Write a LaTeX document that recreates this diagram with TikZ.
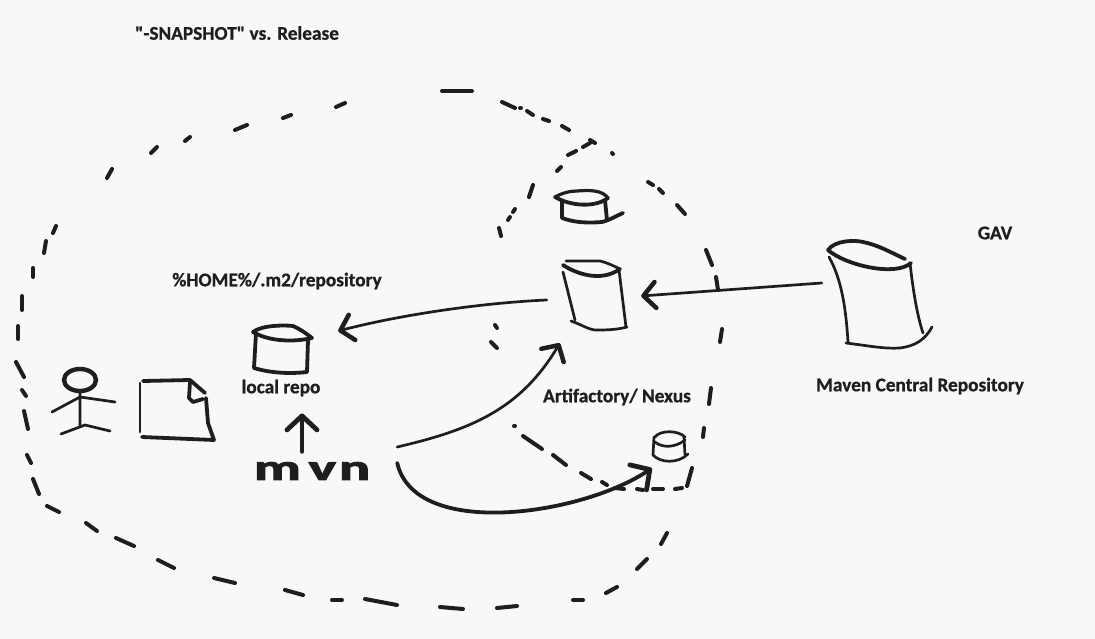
\documentclass[tikz,border=0pt]{standalone}
\usepackage{fontspec}
\newfontfamily\sketchfont[BoldFeatures={FakeBold=0.8}]{Carlito}
\newfontfamily\mvnfont[BoldFeatures={FakeBold=2.5}]{Carlito}
\usepackage{tikz}
\usetikzlibrary{arrows.meta, positioning}
\definecolor{paper}{HTML}{F8F8F8}
\definecolor{ink}{HTML}{1E1E1E}

\begin{document}
\begin{tikzpicture}[
    x=1pt, y=-1pt,
    node distance=26pt,
    sketch/.style={draw=ink, line width=2.7pt, line cap=round, line join=round},
    heavy/.style={sketch, line width=3.8pt},
    dashmark/.style={sketch, line width=4pt},
    caption/.style={text=ink, inner sep=0pt, font=\sketchfont\bfseries\fontsize{19.3}{21}\selectfont},
    repo/.style={inner sep=0pt},
    arrow/.style={sketch, -{Straight Barb[round, length=12pt, width=26pt, line width=4.5pt]}},
    bigarrow/.style={heavy, -{Straight Barb[round, length=14pt, width=30pt, line width=4.8pt]}} ]

    \fill[paper] (0,0) rectangle (1095,639);
    \useasboundingbox (0,0) rectangle (1095,639);

    % Outer and inner dashed rings
    \foreach \xa/\ya/\xb/\yb in {112/169/107/178, 56/226/53/233, 46/241/44/253, 33/268/33/277,
        22/296/22/310, 18/326/18/339, 16/362/24/377, 22/390/26/396, 24/411/28/429, 27/455/31/463,
        33/479/39/494, 47/506/59/512, 86/523/97/531, 116/538/134/546, 158/560/174/568,
        214/578/235/583, 285/590/303/595, 332/600/342/600, 365/599/397/605, 440/607/463/609,
        497/608/517/606, 573/600/583/600, 606/593/617/587, 637/569/647/559, 661/544/667/533,
        151/153/157/147, 185/141/190/137, 235/130/247/125, 283/118/291/115, 336/107/345/103,
        442/91/472/91, 502/102/515/108, 520/108/521/108, 527/111/533/115, 543/119/549/121,
        562/126/569/130, 612/153/613/154, 648/182/653/185, 659/189/663/193, 677/205/685/214,
        706/250/712/265, 716/277/718/290, 722/329/720/342, 711/388/709/404, 704/428/703/437,
        692/468/687/486, 682/488/675/489, 653/489/663/489, 637/489/643/490, 615/488/624/489,
        602/482/607/485, 581/473/591/479, 553/455/566/465, 523/436/542/449, 514/426/515/426,
        491/342/497/348, 495/325/497/328, 499/228/501/236, 508/220/510/217, 513/212/515/209,
        529/197/533/185, 557/171/561/167, 568/155/576/151, 583/147/590/143, 590/140/595/143}
      \draw[dashmark] (\xa,\ya) -- (\xb,\yb);

    % Stick figure and file
    \draw[heavy, line width=4.4pt] (80,380) ellipse (16 and 11);
    \draw[sketch] (80,392) -- (80,425) (52,412) -- (80,397) -- (115,402);
    \draw[sketch] (61,434) -- (85,425) -- (110,431);
    \draw[sketch] (140,383) -- (140,432);
    \draw[heavy] (143,381) -- (190,380) -- (205,393);
    \draw[heavy] (190,382) -- (189,398) -- (193,402) -- (203,399);
    \draw[heavy] (206,398) -- (208,423) -- (214,440) -- (142,437);

    % Local repository
    \node[repo, minimum width=110pt, minimum height=10pt] (local_cyl) at (283,350) {};
    \draw[heavy] (253,332) .. controls (262,325) and (285,325) .. (293,326)
        .. controls (300,329) and (307,334) .. (312,338);
    \draw[heavy] (253,332) .. controls (270,342) and (295,342) .. (312,338);
    \draw[heavy] (256,333) -- (254,368) .. controls (270,373) and (290,374) .. (307,372) -- (308,340);
    \node[caption] (local_label) at (281,388) {local repo};
    \node[caption] (home_label) at (277,281) {\%HOME\%/.m2/repository};

    % mvn
    \node[text=ink, minimum width=170pt, minimum height=38pt, inner sep=0pt,
        font=\mvnfont\bfseries\fontsize{36}{36}\selectfont] (mvn) at (312,471)
        {\raisebox{-1pt}{\scalebox{1.6}[1.0]{m\kern5pt v\kern2pt n}}};

    % Proxy repository
    \node[repo, minimum width=94pt, minimum height=94pt] (proxy_cyl) at (594,296) {};
    \draw[sketch] (566,261) -- (600,261) .. controls (608,263) and (614,266) .. (620,269);
    \draw[heavy] (563,265) .. controls (575,273) and (600,283) .. (620,269);
    \draw[sketch] (563,272) -- (575,320);
    \draw[sketch] (619,270) -- (626,327);
    \draw[sketch] (571,321) .. controls (585,326) and (590,331) .. (600,330)
        .. controls (610,330) and (620,329) .. (627,327);
    \node[caption] (proxy_label) at (617,397) {Artifactory/ Nexus};

    % Snapshot and release repositories
    \draw[sketch, line width=3.2pt] (555,197) .. controls (562,193) and (570,191) .. (577,191)
        .. controls (590,190) and (602,190) .. (608,198);
    \draw[heavy] (555,197) .. controls (570,206) and (595,208) .. (608,198);
    \draw[heavy] (562,202) -- (562,218) .. controls (575,223) and (590,223) .. (602,222)
        .. controls (610,220) and (616,216) .. (623,213);
    \draw[heavy] (605,200) -- (607,220);
    \node[repo, minimum width=36pt, minimum height=36pt] (release_cyl) at (670,450) {};
    \draw[sketch] (655,437) .. controls (660,430) and (678,430) .. (685,437);
    \draw[sketch] (655,442) .. controls (662,448) and (675,448) .. (685,440);
    \draw[sketch] (654,437) -- (653,455) .. controls (660,463) and (678,464) .. (688,454);
    \draw[sketch] (684,437) -- (685,455);

    % Maven Central
    \node[repo, minimum width=106pt, minimum height=110pt] (central_cyl) at (875,283) {};
    \draw[heavy] (828,250) .. controls (835,240) and (855,240) .. (863,242)
        .. controls (878,245) and (890,252) .. (905,259);
    \draw[heavy] (828,250) .. controls (845,265) and (895,277) .. (911,263);
    \draw[sketch] (829,257) .. controls (842,280) and (846,310) .. (848,342);
    \draw[sketch] (910,263) .. controls (913,290) and (917,315) .. (923,333);
    \draw[sketch] (846,343) .. controls (870,346) and (885,349) .. (900,348)
        .. controls (915,346) and (925,340) .. (932,327);
    \node[caption] (central_label) at (920,386) {Maven Central Repository};
    \node[caption] (gav_label) at (995,233) {GAV};
    \node[caption] (title_label) at (237,33) {"-SNAPSHOT" vs. Release};

    % Arrows between the repositories
    \draw[arrow] (central_cyl.west) -- (proxy_cyl.east);
    \draw[arrow] ([yshift=-4pt]proxy_cyl.west) .. controls (480,303) and (400,315) .. ([yshift=19pt]local_cyl.east);
    \draw[arrow] ([yshift=24pt]mvn.east) .. controls (470,430) and (520,410) .. ([xshift=13pt]proxy_cyl.south west);
    \draw[bigarrow] ([yshift=8pt]mvn.east) .. controls (415,540) and (582,515) .. (release_cyl.south west);
    \draw[bigarrow] ([xshift=-10pt]mvn.north) -- ([xshift=21pt, yshift=-17pt]local_label.south);

  \end{tikzpicture}
\end{document}
